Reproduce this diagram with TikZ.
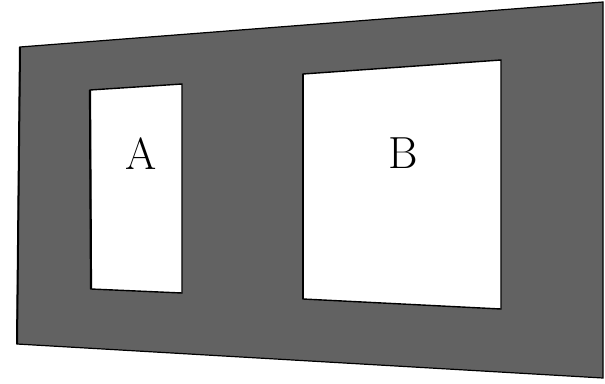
\documentclass[tikz,border=0pt]{standalone}
\usepackage{tikz}
\definecolor{panel}{RGB}{98,98,98}
\begin{document}
\begin{tikzpicture}[x=1pt,y=-1pt,
  edge/.style={draw=black,line width=1.2pt,line join=miter},
  window/.style={fill=white,draw=black,line width=1.4pt},
  lbl/.style={font=\fontsize{45}{45}\selectfont,inner sep=0pt}]
\useasboundingbox (0,0) rectangle (605,383);
% outer panel
\coordinate (o1) at (20,47);
\coordinate (o2) at (603,2);
\coordinate (o3) at (603,378);
\coordinate (o4) at (17,344);
\filldraw[fill=panel,edge] (o1) -- (o2) -- (o3) -- (o4) -- cycle;
\draw[line width=2pt] (o1) -- (o4);
% window A
\coordinate (a1) at (90,90);
\coordinate (a2) at (182,84);
\coordinate (a3) at (182,293);
\coordinate (a4) at (91,289);
\filldraw[window] (a1) -- (a2) -- (a3) -- (a4) -- cycle;
\draw[line width=2.2pt] (a1) -- (a4);
% window B
\coordinate (b1) at (303,74);
\coordinate (b2) at (501,60);
\coordinate (b3) at (501,309);
\coordinate (b4) at (303,299);
\filldraw[window] (b1) -- (b2) -- (b3) -- (b4) -- cycle;
\draw[line width=2.2pt] (b1) -- (b4);
% labels
\node[lbl] (la) at (141,154) {A};
\node[lbl] (lb) at (403,153) {B};
\end{tikzpicture}
\end{document}
